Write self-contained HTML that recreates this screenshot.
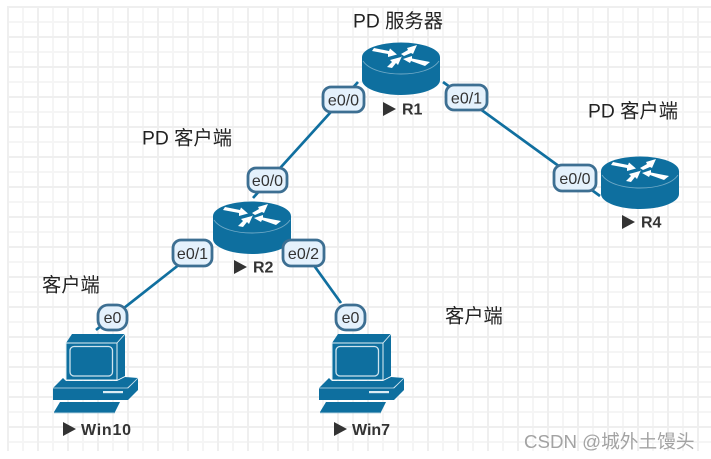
<!DOCTYPE html>
<html><head><meta charset="utf-8">
<style>
html,body{margin:0;padding:0;background:#fff;width:711px;height:459px;overflow:hidden}
svg{display:block}
text{font-family:"Liberation Sans","Noto Sans CJK SC",sans-serif}
.cn{font-size:19.3px;fill:#222}
.lb{font-size:16px;fill:#333;text-anchor:middle}
.nm{font-size:16px;font-weight:bold;fill:#333}
</style></head><body>
<svg width="711" height="459" viewBox="0 0 711 459" xmlns="http://www.w3.org/2000/svg">
<defs>
<pattern id="g" x="7" y="6" width="30" height="30" patternUnits="userSpaceOnUse">
<rect x="15" y="0" width="2" height="30" fill="#f5f5f5"/>
<rect x="0" y="15" width="30" height="2" fill="#f5f5f5"/>
<rect x="0" y="0" width="2" height="30" fill="#efefef"/>
<rect x="0" y="0" width="30" height="2" fill="#efefef"/>
</pattern>
<g id="router">
<path d="M-39 0V23C-39 31-22 38 0 38S39 31 39 23V0Z" fill="#0e6f9f"/>
<ellipse cx="0" cy="0" rx="39" ry="14.5" fill="#0e6f9f"/>
<path d="M-38 4C-32 13-16 17 0 17S32 13 38 4" fill="none" stroke="#6fa9c6" stroke-width=".9"/>
<g fill="#fff">
<polygon points="-29,-6 -27,-9 -12,-6 -11,-8.5 -4,-2.5 -13,0 -13,-3"/>
<polygon points="-14,10 -9,5 -11,3 0,0 1,-1 -3,8 -5,6 -9,11"/>
<polygon points="16,-12 6,-9 7,-7 0,-3 3,-1 10,-4 12,-3"/>
<polygon points="2,2 11,-1 11,1.500 29,5 24,9 10,4 9,6"/>
</g>
</g>
<g id="pc">
<polygon points="0,0 6,-9 59,-9 51,0" fill="#0e6f9f"/>
<polygon points="51,0 59,-9 59,33 51,37" fill="#0e6f9f"/>
<rect x="0" y="0" width="51" height="37" fill="#0e6f9f"/>
<path d="M0 0H51V37H0Z" fill="none" stroke="#e3f0f6" stroke-width="1"/>
<path d="M51 0L59-9" stroke="#e3f0f6" stroke-width=".9"/>
<rect x="4" y="3.500" width="42.500" height="29.500" rx="4" fill="#0e6f9f" stroke="#cfe4ee" stroke-width="1.300"/>
<polygon points="-13,45 -3,35 0,38 51,38 59,34 72,35 61,45" fill="#0e6f9f"/>
<rect x="-13" y="45" width="75" height="12" fill="#0e6f9f"/>
<polygon points="62,45 72,35 72,47 62,57" fill="#0e6f9f"/>
<path d="M-13 45H62L72 35" fill="none" stroke="#cfe3ee" stroke-width=".8"/>
<rect x="37" y="48" width="20" height="2.200" fill="#dcecf4"/>
<polygon points="-12,69 -6,59 54,59 49,69" fill="#0e6f9f"/>
<rect x="-12" y="69" width="61" height="1.200" fill="#5d9dbd"/>
</g>
</defs>
<rect width="711" height="459" fill="#fff"/>
<rect x="7" y="6" width="704" height="445" fill="url(#g)"/>

<g stroke="#106f9f" stroke-width="2.700" fill="none">
<path d="M253 198L358 82"/>
<path d="M443 82L600 196"/>
<path d="M96 330L185 260"/>
<path d="M305 253L341 303"/>
</g>

<use href="#router" x="401" y="57"/>
<use href="#router" x="252" y="216"/>
<use href="#router" x="640" y="171"/>
<use href="#pc" x="66" y="343"/>
<use href="#pc" x="332" y="343"/>

<g fill="#e4f1fc" stroke="#3d6f92" stroke-width="2.800">
<rect x="323" y="87" width="41" height="25" rx="8"/>
<rect x="446" y="85" width="41" height="25" rx="8"/>
<rect x="248" y="168" width="39" height="24" rx="8"/>
<rect x="173" y="240" width="39" height="26" rx="8"/>
<rect x="283" y="240" width="41" height="26" rx="8"/>
<rect x="554" y="165" width="42" height="26" rx="8"/>
<rect x="98" y="305" width="29" height="25" rx="10"/>
<rect x="336" y="305" width="29" height="25" rx="10"/>
</g>
<text class="lb" x="343.500" y="105.500">e0/0</text>
<text class="lb" x="466.500" y="103.500">e0/1</text>
<text class="lb" x="267.500" y="186">e0/0</text>
<text class="lb" x="192.500" y="259">e0/1</text>
<text class="lb" x="303.500" y="259">e0/2</text>
<text class="lb" x="575" y="184">e0/0</text>
<text class="lb" x="112.500" y="323">e0</text>
<text class="lb" x="350.500" y="323">e0</text>

<g fill="#333">
<polygon points="383,102 396,109 383,116"/>
<polygon points="234,260 247,267 234,274"/>
<polygon points="622,215 635,222 622,229"/>
<polygon points="63,422 76,429 63,436"/>
<polygon points="334,422 347,429 334,436"/>
</g>
<text class="nm" x="402" y="114.500">R1</text>
<text class="nm" x="253" y="272.500">R2</text>
<text class="nm" x="641" y="227.500">R4</text>
<text class="nm" x="81" y="435" textLength="50">Win10</text>
<text class="nm" x="352" y="435">Win7</text>

<text class="cn" x="353" y="27.500">PD 服务器</text>
<text class="cn" x="142" y="144.500">PD 客户端</text>
<text class="cn" x="588" y="117.500">PD 客户端</text>
<text class="cn" x="42" y="291.500">客户端</text>
<text class="cn" x="445" y="322.500">客户端</text>
<text x="524" y="448" font-size="18.700" fill="#a3a3a3">CSDN @城外土馒头</text>
</svg>
</body></html>
